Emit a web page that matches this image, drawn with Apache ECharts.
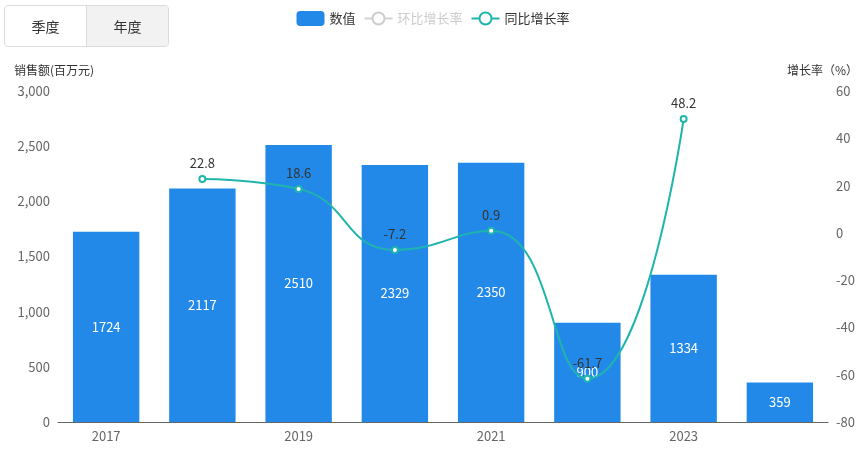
<!DOCTYPE html>
<html>
<head>
<meta charset="utf-8">
<script src="https://cdn.jsdelivr.net/npm/echarts@6/dist/echarts.min.js"></script>
<style>
  html, body { margin:0; padding:0; background:#fff; }
  #wrap { position:relative; width:866px; height:450px; }
  #chart { width:866px; height:450px; }
  .tabs { position:absolute; left:4px; top:5px; display:flex; border:1px solid #dcdcdc; border-radius:4px; overflow:hidden; z-index:2;
          font-family:"Noto Sans CJK SC", sans-serif; font-size:14px; color:#333; }
  .tabs div { width:81px; height:40px; line-height:40px; text-align:center; }
  .tabs div.on { background:#f2f2f2; border-left:1px solid #dcdcdc; }
</style>
</head>
<body>
<div id="wrap">
  <div class="tabs"><div>季度</div><div class="on">年度</div></div>
  <div id="chart"></div>
</div>
<script>
var years = ['2017','2018','2019','2020','2021','2022','2023','2024'];
var sales = [1724, 2117, 2510, 2329, 2350, 900, 1334, 359];
var momRate = [];
var yoyRate = [null, 22.8, 18.6, -7.2, 0.9, -61.7, 48.2, null];

var barColor = '#2389e8';
var lineColor = '#1fb5ad';
var font = '"Noto Sans CJK SC", sans-serif';

var chart = echarts.init(document.getElementById('chart'));
chart.setOption({
  textStyle: { fontFamily: font },
  animation: false,
  legend: {
    top: 6, left: 'center', itemGap: 8, itemWidth: 28, itemHeight: 15,
    textStyle: { color: '#333', fontSize: 13 },
    inactiveColor: '#ccc',
    data: [
      { name: '数值', icon: 'roundRect' },
      { name: '环比增长率' },
      { name: '同比增长率' }
    ],
    selected: { '环比增长率': false }
  },
  grid: { left: 58, right: 38, top: 91, bottom: 28 },
  xAxis: {
    type: 'category', data: years,
    axisLine: { lineStyle: { color: '#666' } },
    axisTick: { alignWithLabel: false, interval: 1 },
    axisLabel: { color: '#666', fontSize: 13, interval: 1, margin: 8 }
  },
  yAxis: [
    {
      type: 'value', min: 0, max: 3000, interval: 500,
      name: '销售额(百万元)', nameGap: 15,
      nameTextStyle: { color: '#333', fontSize: 12, align: 'left', padding: [0, 0, 0, -44] },
      axisLabel: { color: '#666', fontSize: 13 },
      splitLine: { show: false }
    },
    {
      type: 'value', min: -80, max: 60, interval: 20,
      name: '增长率（%）', nameGap: 15,
      nameTextStyle: { color: '#333', fontSize: 12, align: 'right', padding: [0, -30, 0, 0] },
      axisLabel: { color: '#666', fontSize: 13 },
      splitLine: { show: false }
    }
  ],
  series: [
    {
      name: '数值', type: 'bar', data: sales, barWidth: '69%',
      itemStyle: { color: barColor },
      label: { show: true, position: 'inside', color: '#fff', fontSize: 13 }
    },
    {
      name: '环比增长率', type: 'line', yAxisIndex: 1, data: momRate, smooth: true,
      symbol: 'emptyCircle', symbolSize: 6,
      itemStyle: { color: '#c2c2c2' }, lineStyle: { width: 2, color: '#c2c2c2' }
    },
    {
      name: '同比增长率', type: 'line', yAxisIndex: 1, data: yoyRate, smooth: true,
      symbol: 'emptyCircle', symbolSize: 6,
      itemStyle: { color: lineColor }, lineStyle: { width: 2, color: lineColor },
      label: { show: true, position: 'top', color: '#333', fontSize: 13 }
    }
  ]
});
</script>
</body>
</html>
